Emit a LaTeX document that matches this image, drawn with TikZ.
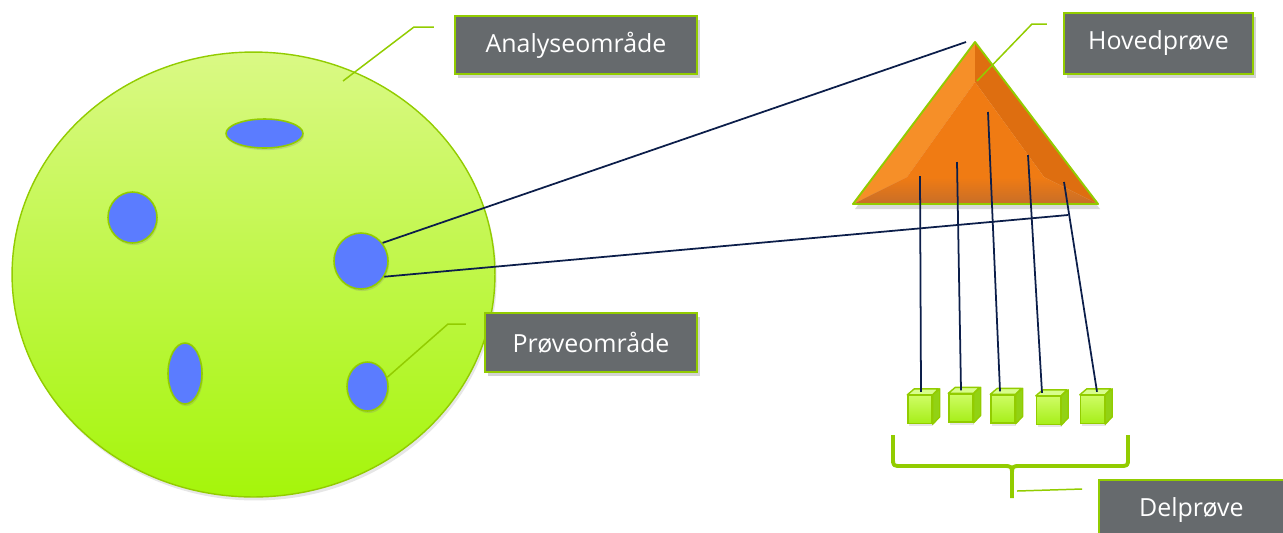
\documentclass[tikz,border=0pt]{standalone}
\usepackage{fontspec}
\setmainfont{Open Sans}
\usetikzlibrary{shapes.geometric,shadows}
\definecolor{limeline}{RGB}{146,204,0}
\definecolor{boxgray}{RGB}{102,106,109}
\definecolor{spotblue}{RGB}{91,124,255}
\definecolor{navy}{RGB}{12,30,74}
\definecolor{areatop}{RGB}{218,249,133}
\definecolor{areabot}{RGB}{165,245,10}
\definecolor{cubetop}{RGB}{206,252,100}
\definecolor{cubebot}{RGB}{166,238,24}
\definecolor{cubelid}{RGB}{216,253,140}
\definecolor{cubeside}{RGB}{146,210,20}
\definecolor{orangemid}{RGB}{240,123,19}
\definecolor{orangelight}{RGB}{246,143,40}
\definecolor{orangedark}{RGB}{222,110,16}
\definecolor{orangelow}{RGB}{200,110,40}
\begin{document}
\begin{tikzpicture}[x=0.02cm,y=-0.02cm,
	label/.style={draw=limeline,line width=1.2pt,fill=boxgray,text=white,font=\fontsize{14.2}{17}\selectfont,
		drop shadow={opacity=0.35,shadow xshift=1.5pt,shadow yshift=-2pt}},
	spot/.style={ellipse,draw=limeline,line width=0.9pt,fill=spotblue,inner sep=0pt,
		drop shadow={opacity=0.25,shadow xshift=0.6pt,shadow yshift=-1.2pt}},
	leader/.style={limeline,line width=0.85pt},
	probe/.style={navy,line width=1pt},
	cubefront/.style={draw=limeline,line width=0.8pt,top color=cubetop,bottom color=cubebot,inner sep=0pt,
		minimum width=0.48cm,minimum height=0.56cm,
		drop shadow={opacity=0.2,shadow xshift=0.8pt,shadow yshift=-1.5pt}}]
	\useasboundingbox (0,0) rectangle (1283,532);

	% analysis area with the sample spots
	\node [ellipse,draw=limeline,line width=0.8pt,top color=areatop,bottom color=areabot,
		minimum width=9.66cm,minimum height=8.9cm,
		drop shadow={opacity=0.2,shadow xshift=1pt,shadow yshift=-2pt}] (area) at (253.5,274.5) {};
	\node [spot,minimum width=1.54cm,minimum height=0.58cm] (s1) at (264.5,133.5) {};
	\node [spot,minimum width=0.98cm,minimum height=1.02cm] (s2) at (132.5,217.5) {};
	\node [spot,minimum width=1.08cm,minimum height=1.12cm] (pr) at (361,261) {};
	\node [spot,minimum width=0.68cm,minimum height=1.22cm] (s4) at (185,373.5) {};
	\node [spot,minimum width=0.82cm,minimum height=0.98cm] (pb) at (367.5,386.5) {};

	% main sample
	\coordinate (A) at (975,42);
	\coordinate (L) at (853,204);
	\coordinate (R) at (1098,204);
	\coordinate (a) at (975,82);
	\coordinate (l) at (907,177);
	\coordinate (r) at (1044,177);
	\fill [black,opacity=0.15] ([shift={(2,5)}]A) -- ([shift={(2,5)}]L) -- ([shift={(2,5)}]R) -- cycle;
	\fill [orangelight] (A) -- (L) -- (l) -- (a) -- cycle;
	\fill [orangedark] (A) -- (a) -- (r) -- (R) -- cycle;
	\shade [top color=orangemid,bottom color=orangelow] (L) -- (R) -- (r) -- (l) -- cycle;
	\fill [orangemid] (a) -- (l) -- (r) -- cycle;
	\draw [limeline,line width=1.1pt,line join=round] (A) -- (L) -- (R) -- cycle;

	% sub samples
	\foreach \i/\cx/\cy/\tx/\ty/\dx in {1/920/409.5/920/176/1,2/961/408/957/162/0,3/1003/409/988/112/-3,
		4/1048.5/410.5/1028/155/-6.5,5/1092.5/409.5/1064/182/4.5}{
		\node [cubefront] (c\i) at (\cx,\cy) {};
		\draw [limeline,line width=0.8pt,fill=cubelid,line join=round] (c\i.north west) -- ++(7,-6) -- ++(24,0) -- (c\i.north east) -- cycle;
		\draw [limeline,line width=0.8pt,fill=cubeside,line join=round] (c\i.north east) -- ++(7,-6) -- ++(0,28) -- (c\i.south east) -- cycle;
		\coordinate (t\i) at (\tx,\ty);
		\draw [probe] (t\i) -- ([xshift=\dx*0.02cm,yshift=0.06cm]c\i.north);
	}

	% links from the sample spot to the main sample
	\coordinate (apexend) at (966,42);
	\coordinate (baseend) at (1068,215);
	\draw [probe] (pr.40) -- (apexend);
	\draw [probe] (pr.-34) -- (baseend);

	% brace under the sub samples
	\draw [limeline,line width=2.2pt,line join=round]
		(893,435) -- (893,458) .. controls (893,466) .. (902,466) -- (1003,466)
		.. controls (1012,466) .. (1012,475) -- (1012,498);
	\draw [limeline,line width=2.2pt,line join=round]
		(1128,435) -- (1128,458) .. controls (1128,466) .. (1119,466) -- (1021,466)
		.. controls (1012,466) .. (1012,475);

	% labels
	\node [label,minimum width=4.84cm,minimum height=1.16cm] (ana) at (576,45) {Analyseområde};
	\node [label,minimum width=3.78cm,minimum height=1.22cm] (hov) at (1158.5,43.5) {Hovedprøve};
	\node [label,minimum width=4.24cm,minimum height=1.18cm] (pro) at (591,342.5) {Prøveområde};
	\node [label,anchor=west,minimum height=1.2cm,inner xsep=0.8cm,text width=3.2cm,align=left] (del) at (1098,510) {Delprøve};
	\coordinate (anaend) at (343,81);
	\coordinate (hovend) at (977,81);
	\coordinate (delend) at (1017,491);
	\draw [leader] (ana.west) ++(-20,-18) -- ++(-20,0) -- (anaend);
	\draw [leader] (hov.west) ++(-16,-19.5) -- ++(-15,0) -- (hovend);
	\draw [leader] (pro.west) ++(-18,-18.5) -- ++(-18,0) -- (pb.25);
	\draw [leader] (del.west) ++(-16,-21) -- (delend);
\end{tikzpicture}
\end{document}
